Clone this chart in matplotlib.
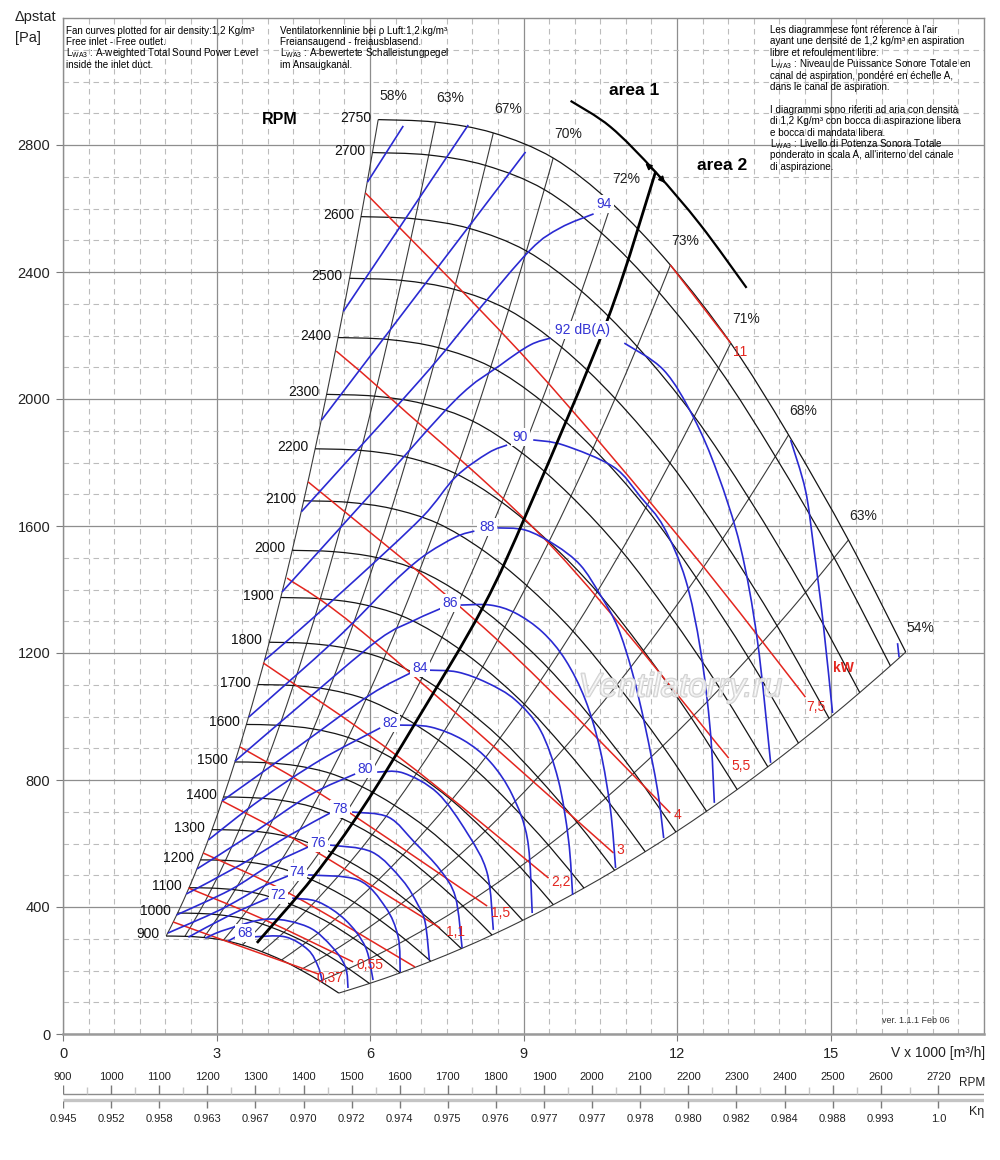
import numpy as np
import matplotlib
matplotlib.use("Agg")
import matplotlib.pyplot as plt
from matplotlib.path import Path
from matplotlib.patches import PathPatch
import matplotlib.patheffects as pe

plt.rcParams['font.family'] = ['Liberation Sans', 'DejaVu Sans']
plt.rcParams['mathtext.fontset'] = 'custom'
plt.rcParams['mathtext.rm'] = 'Liberation Sans'

# ---------------- data ----------------
TOP_RPM = 2750
RPM_CURVES = [2750, 2700, 2600, 2500, 2400, 2300, 2200, 2100, 2000, 1900,
              1800, 1700, 1600, 1500, 1400, 1300, 1200, 1100, 1000, 900]
EFF_LABELS = ['58%', '63%', '67%', '70%', '72%', '73%', '71%', '68%', '63%', '54%']
BASE_Q = [6.16, 7.28, 8.41, 9.58, 10.72, 11.87, 13.05, 14.18, 15.35, 16.47]   # at 2750 RPM
BASE_P = [2880, 2872, 2838, 2759, 2617, 2422, 2176, 1887, 1556, 1203]

# power lines (kW)
KW_037 = [(2.15, 353), (3.23, 290), (4.99, 189)]
KW_055 = [(2.45, 460), (3.95, 359), (5.67, 227)]
KW_075 = [(2.74, 570), (4.48, 438), (6.88, 211)]
KW_110 = [(3.11, 734), (4.79, 589), (7.37, 334)]
KW_150 = [(3.46, 904), (5.22, 737), (8.29, 403)]
KW_220 = [(3.91, 1169), (6.59, 869), (9.49, 491)]
KW_300 = [(4.38, 1436), (6.04, 1241), (10.76, 570)]
KW_400 = [(4.79, 1739), (8.45, 1247), (11.87, 696)]
KW_550 = [(5.34, 2151), (6.44, 1997), (9.62, 1524), (13.01, 869)]
KW_750 = [(5.91, 2649), (9.13, 2113), (12.20, 1534), (14.51, 1061)]
KW_1100 = [(11.87, 2422), (13.05, 2176)]
KW_TEXT = ['0,37', '0,55', '1,1', '1,5', '2,2', '3', '4', '5,5', '7,5', '11', 'kW']
KW_TEXT_Q = [5.22, 6.00, 7.67, 8.55, 9.74, 10.89, 12.01, 13.26, 14.71, 13.24, 15.26]
KW_TEXT_P = [176, 217, 321, 381, 479, 580, 690, 844, 1030, 2148, 1153]

# sound power lines dB(A): left leg and right arc
DB100 = [(5.95, 2683), (6.65, 2860)]
DB98 = [(5.48, 2276), (7.92, 2863)]
DB96_LEG = [(5.05, 1933), (9.04, 2778)]
DB96_ARC = [(16.31, 1231), (16.34, 1187)]
DB94_LEG = [(4.66, 1645), (6.98, 2060), (8.04, 2265), (9.13, 2469), (9.72, 2539), (10.37, 2583)]
DB94_ARC = [(14.22, 1871), (14.51, 1713), (14.67, 1534), (14.85, 1304), (15.04, 1011)]
DB92_LEG = [(4.28, 1392), (6.00, 1698), (7.67, 1997), (8.55, 2107), (9.13, 2170), (9.53, 2192)]
DB92_ARC = [(10.97, 2176), (11.74, 2091), (12.32, 1943), (12.79, 1767), (13.24, 1534),
            (13.57, 1241), (13.83, 854)]
DB90_LEG = [(3.94, 1178), (4.40, 1241), (5.71, 1430), (7.02, 1628), (7.67, 1754),
            (8.31, 1830), (8.68, 1855)]
DB90_ARC = [(9.19, 1871), (9.78, 1855), (10.76, 1786), (11.29, 1691), (11.74, 1597),
            (12.17, 1430), (12.46, 1209), (12.65, 957), (12.73, 728)]
DB88_LEG = [(3.63, 998), (5.32, 1241), (6.36, 1408), (7.02, 1502), (7.67, 1565), (8.04, 1584)]
DB88_ARC = [(8.49, 1594), (9.04, 1587), (9.62, 1540), (10.11, 1477), (10.50, 1383),
            (10.84, 1282), (11.13, 1137), (11.38, 967), (11.62, 768), (11.74, 617)]
DB86_LEG = [(3.36, 859), (4.64, 1036), (6.16, 1241), (6.88, 1304), (7.41, 1342)]
DB86_ARC = [(7.77, 1351), (8.35, 1351), (8.84, 1326), (9.37, 1266), (9.82, 1178),
            (10.21, 1052), (10.50, 894), (10.70, 706), (10.80, 523)]
DB84_LEG = [(3.11, 734), (4.64, 910), (6.00, 1068), (6.79, 1137)]
DB84_ARC = [(7.14, 1146), (7.71, 1140), (8.29, 1106), (8.84, 1052), (9.33, 957),
            (9.68, 800), (9.88, 611), (9.96, 438)]
DB82_LEG = [(2.84, 611), (3.85, 737), (5.03, 863), (6.20, 964)]
DB82_ARC = [(6.55, 973), (7.18, 967), (7.82, 926), (8.35, 857), (8.78, 753),
            (9.08, 611), (9.17, 381)]
DB80_LEG = [(2.62, 520), (3.66, 627), (4.83, 753), (5.71, 819)]
DB80_ARC = [(6.14, 825), (6.65, 822), (7.32, 759), (7.90, 633), (8.29, 507), (8.41, 328)]
DB78_LEG = [(2.41, 441), (3.46, 532), (4.44, 627), (5.22, 696)]
DB78_ARC = [(5.65, 699), (6.36, 683), (6.88, 602), (7.37, 517), (7.67, 431), (7.80, 271)]
DB76_LEG = [(2.22, 375), (3.27, 454), (4.05, 532), (4.79, 589)]
DB76_ARC = [(5.22, 595), (6.04, 573), (6.63, 485), (6.94, 406), (7.08, 350), (7.16, 233)]
DB74_LEG = [(2.05, 318), (3.07, 391), (3.85, 460), (4.40, 498)]
DB74_ARC = [(4.79, 501), (5.77, 485), (6.30, 400), (6.55, 306), (6.59, 195)]
DB72_LEG = [(2.45, 305), (3.27, 375), (4.01, 428)]
DB72_ARC = [(4.48, 428), (4.99, 416), (5.52, 359), (5.91, 274), (6.06, 170)]
DB70 = [(2.78, 302), (3.17, 328), (4.01, 362), (4.79, 337), (5.26, 274), (5.52, 211), (5.57, 145)]
DB68_LEG = [(3.23, 293), (3.38, 306)]
DB68_ARC = [(3.72, 306), (4.34, 306), (4.79, 265), (4.99, 211), (5.07, 164)]
DB_TEXT = ['68', '72', '74', '76', '78', '80', '82', '84', '86', '88', '90', '92 dB(A)', '94']
DB_TEXT_Q = [3.56, 4.21, 4.58, 4.99, 5.42, 5.91, 6.40, 6.98, 7.57, 8.29, 8.94, 10.15, 10.58]
DB_TEXT_P = [318, 438, 510, 602, 709, 835, 980, 1153, 1357, 1597, 1880, 2217, 2614]

# thick system curve and area boundary
SYSTEM_CURVE = [(3.79, 287), (4.89, 494), (5.87, 715), (6.92, 989), (8.21, 1345),
                (9.13, 1666), (10.64, 2249), (11.58, 2715)]
AREA_LINE = [(9.92, 2939), (10.70, 2857), (11.58, 2715), (12.46, 2548), (13.36, 2350)]

# axes ticks
X_TICKS = [0, 3, 6, 9, 12, 15]
Y_TICKS = [0, 400, 800, 1200, 1600, 2000, 2400, 2800]

# bottom RPM / K-eta scale
SCALE_RPM = [900, 1000, 1100, 1200, 1300, 1400, 1500, 1600, 1700, 1800, 1900,
             2000, 2100, 2200, 2300, 2400, 2500, 2600, 2720]
SCALE_RPM_MINOR = [950, 1050, 1150, 1250, 1350, 1450, 1550, 1650, 1750, 1850, 1950,
                   2050, 2150, 2250, 2350, 2450, 2550, 2660]
SCALE_KETA = ['0.945', '0.952', '0.958', '0.963', '0.967', '0.970', '0.972', '0.974',
              '0.975', '0.976', '0.977', '0.977', '0.978', '0.980', '0.982', '0.984',
              '0.988', '0.993', '1.0']
RPM2720_AT_V = 17.11

NOTE_EN = ["Fan curves plotted for air density:1,2 Kg/m\u00b3",
           "Free inlet - Free outlet.",
           "L$_{\\mathregular{WA3}}$ : A-weighted Total Sound Power Level",
           "inside the inlet duct."]
NOTE_DE = ["Ventilatorkennlinie bei \u03c1 Luft:1,2 kg/m\u00b3",
           "Freiansaugend - freiausblasend.",
           "L$_{\\mathregular{WA3}}$ : A-bewertete Schalleistungpegel",
           "im Ansaugkanal."]
NOTE_FR_IT = ["Les diagrammese font r\u00e9ference \u00e0 l'air",
              "ayant une densit\u00e9 de 1,2 kg/m\u00b3 en aspiration",
              "libre et refoulement libre.",
              "L$_{\\mathregular{WA3}}$ : Niveau de Puissance Sonore Totale en",
              "canal de aspiration, pond\u00e9r\u00e9 en \u00e9chelle A,",
              "dans le canal de aspiration.",
              "",
              "I diagrammi sono riferiti ad aria con densit\u00e0",
              "di 1,2 Kg/m\u00b3 con bocca di aspirazione libera",
              "e bocca di mandata libera.",
              "L$_{\\mathregular{WA3}}$ : Livello di Potenza Sonora Totale",
              "ponderato in scala A, all'interno del canale",
              "di aspirazione."]

# ---------------- helpers ----------------
W, H = 1000, 1160


def fx(px):
    return px / W


def fy(py):
    return 1 - py / H


def smooth_path(points):
    P = np.asarray(points, dtype=float)
    if len(P) < 3:
        return Path(P)
    ext = np.vstack([P[0], P, P[-1]])
    verts = [P[0]]
    codes = [Path.MOVETO]
    for i in range(1, len(ext) - 2):
        p0, p1, p2, p3 = ext[i - 1], ext[i], ext[i + 1], ext[i + 2]
        verts += [p1 + (p2 - p0) / 6.0, p2 - (p3 - p1) / 6.0, p2]
        codes += [Path.CURVE4] * 3
    return Path(verts, codes)


def draw(ax, points, color, lw, z):
    ax.add_patch(PathPatch(smooth_path(points), facecolor='none', edgecolor=color,
                           lw=lw, zorder=z, capstyle='butt', joinstyle='round'))


# ---------------- figure ----------------
fig = plt.figure(figsize=(W / 100, H / 100), dpi=100)
ax = fig.add_axes([fx(63), fy(1034), 921 / W, (1034 - 18) / H])
ax.set_xlim(0, 18)
ax.set_ylim(0, 3200)

ax.set_xticks(X_TICKS)
ax.set_xticklabels([str(v) for v in X_TICKS])
ax.set_yticks(Y_TICKS)
ax.set_yticklabels([str(v) for v in Y_TICKS])
ax.set_xticks(np.arange(0, 18.01, 0.5), minor=True)
ax.set_yticks(np.arange(0, 3201, 100), minor=True)
ax.set_axisbelow(True)
ax.grid(which='major', color='#8e8e8e', lw=0.9, ls='-')
ax.grid(which='minor', color='#bcbcbc', lw=0.8, ls=(0, (5, 4)))
ax.tick_params(which='minor', length=0)
ax.tick_params(which='major', length=5, width=0.8, color='#7a7a7a',
               labelsize=10.5, labelcolor='#222222', pad=4)
for s in ['top', 'right', 'left']:
    ax.spines[s].set_color('#8e8e8e')
    ax.spines[s].set_linewidth(1.0)
ax.spines['bottom'].set_color('#9a9a9a')
ax.spines['bottom'].set_linewidth(1.8)

ratios = [r / TOP_RPM for r in RPM_CURVES]

# efficiency (constant throttle) lines
for q, p in zip(BASE_Q, BASE_P):
    pts = [(q * s, p * s * s) for s in sorted(ratios)]
    draw(ax, pts, '#3a3a3a', 0.8, 2)

# RPM curves
for rpm, s in zip(RPM_CURVES, ratios):
    pts = [(q * s, p * s * s) for q, p in zip(BASE_Q, BASE_P)]
    draw(ax, pts, '#151515', 0.9, 2.2)
    ax.annotate(str(rpm), xy=pts[0], xytext=(-7, 2), textcoords='offset pixels',
                ha='right', va='center', fontsize=10, color='#111111', zorder=6)

for lab, q, p in zip(EFF_LABELS, BASE_Q, BASE_P):
    ax.annotate(lab, xy=(q, p), xytext=(15, 24), textcoords='offset pixels',
                ha='center', va='center', fontsize=10, color='#222222', zorder=6)

# power lines
RED = '#e3261f'
for line in [KW_037, KW_055, KW_075, KW_110, KW_150, KW_220, KW_300, KW_400,
             KW_550, KW_750, KW_1100]:
    draw(ax, line, RED, 1.1, 3)
for t, q, p in zip(KW_TEXT, KW_TEXT_Q, KW_TEXT_P):
    ax.text(q, p, t, ha='center', va='center', fontsize=10, color=RED,
            fontweight='bold' if t == 'kW' else 'normal', zorder=9)

# sound lines
BLUE = '#2a2ad2'
for line in [DB100, DB98, DB96_LEG, DB96_ARC, DB94_LEG, DB94_ARC, DB92_LEG, DB92_ARC,
             DB90_LEG, DB90_ARC, DB88_LEG, DB88_ARC, DB86_LEG, DB86_ARC, DB84_LEG,
             DB84_ARC, DB82_LEG, DB82_ARC, DB80_LEG, DB80_ARC, DB78_LEG, DB78_ARC,
             DB76_LEG, DB76_ARC, DB74_LEG, DB74_ARC, DB72_LEG, DB72_ARC, DB70,
             DB68_LEG, DB68_ARC]:
    draw(ax, line, BLUE, 1.2, 3.5)
for t, q, p in zip(DB_TEXT, DB_TEXT_Q, DB_TEXT_P):
    ax.text(q, p, t, ha='center', va='center', fontsize=10, color='#3434d4', zorder=7,
            bbox=dict(boxstyle='square,pad=0.15', fc='white', ec='none'))

# thick lines
draw(ax, SYSTEM_CURVE, 'black', 2.0, 4)
draw(ax, AREA_LINE, 'black', 1.6, 4)
cq, cp = AREA_LINE[2]
for tq, tp in [(11.38, 2743), (11.77, 2680)]:
    ax.annotate('', xy=(tq, tp), xytext=(cq, cp),
                arrowprops=dict(arrowstyle='-|>', color='black', lw=1.2,
                                mutation_scale=9, shrinkA=0, shrinkB=0), zorder=5)

# text labels in chart
ax.text(4.24, 2879, 'RPM', fontsize=11.5, fontweight='bold', ha='center', va='center')
ax.text(11.17, 2973, 'area 1', fontsize=12.5, fontweight='bold', ha='center', va='center')
ax.text(12.89, 2734, 'area 2', fontsize=12.5, fontweight='bold', ha='center', va='center')
ax.text(16.66, 44, 'ver. 1.1.1 Feb 06', fontsize=6.5, ha='center', va='center', color='#333333')
ax.text(12.07, 1090, 'Ventilatorry.ru', fontsize=24, style='italic', ha='center', va='center',
        color=(1, 1, 1, 0.45), zorder=8,
        path_effects=[pe.withStroke(linewidth=1.3, foreground='#d0d0d0')])

# axis titles and notes
fig.text(fx(15), fy(17), '\u0394pstat', fontsize=10.5, ha='left', va='center', color='#222222')
fig.text(fx(15), fy(38), '[Pa]', fontsize=10.5, ha='left', va='center', color='#222222')
fig.text(fx(985), fy(1053), 'V x 1000 [m\u00b3/h]', fontsize=10, ha='right', va='center',
         color='#222222')

for i, line in enumerate(NOTE_EN):
    fig.text(fx(66), fy(31 + i * 11.2), line, fontsize=7.1, ha='left', va='center')
for i, line in enumerate(NOTE_DE):
    fig.text(fx(280), fy(31 + i * 11.2), line, fontsize=7.1, ha='left', va='center')
for i, line in enumerate(NOTE_FR_IT):
    if line:
        fig.text(fx(770), fy(30 + i * 11.4), line, fontsize=7.1, ha='left', va='center')

# bottom RPM / K-eta scale
NARROW = ['Liberation Sans Narrow', 'Liberation Sans', 'DejaVu Sans']
ax2 = fig.add_axes([fx(63), 0, 921 / W, 100 / H])
ax2.set_xlim(900, 900 + 18 * (2720 - 900) / RPM2720_AT_V)
ax2.set_ylim(1160, 1060)
ax2.axis('off')
xr = ax2.get_xlim()
ax2.hlines(1094, xr[0], xr[1], color='#8c8c8c', lw=1.0)
ax2.hlines(1099.5, xr[0], xr[1], color='#c4c4c4', lw=2.4)
ax2.vlines(SCALE_RPM, 1085, 1094, color='#7a7a7a', lw=1.0)
ax2.vlines(SCALE_RPM_MINOR, 1087, 1094, color='#c6c6c6', lw=1.0)
ax2.vlines(SCALE_RPM, 1101, 1108, color='#7a7a7a', lw=1.0)
for r, k in zip(SCALE_RPM, SCALE_KETA):
    ax2.text(r, 1077, str(r), ha='center', va='center', fontsize=8, family=NARROW,
             color='#222222')
    ax2.text(r, 1119, k, ha='center', va='center', fontsize=8, family=NARROW,
             color='#222222')
ax2.text((972 - 63) / 921, 1 - (1083 - 1060) / 100, 'RPM', transform=ax2.transAxes,
         ha='center', va='center', fontsize=8.5, family=NARROW, color='#222222')
ax2.text((977 - 63) / 921, 1 - (1112 - 1060) / 100, 'K\u03b7', transform=ax2.transAxes,
         ha='center', va='center', fontsize=9, family=NARROW, color='#222222')

fig.savefig('out.png', dpi=100, facecolor='white')
